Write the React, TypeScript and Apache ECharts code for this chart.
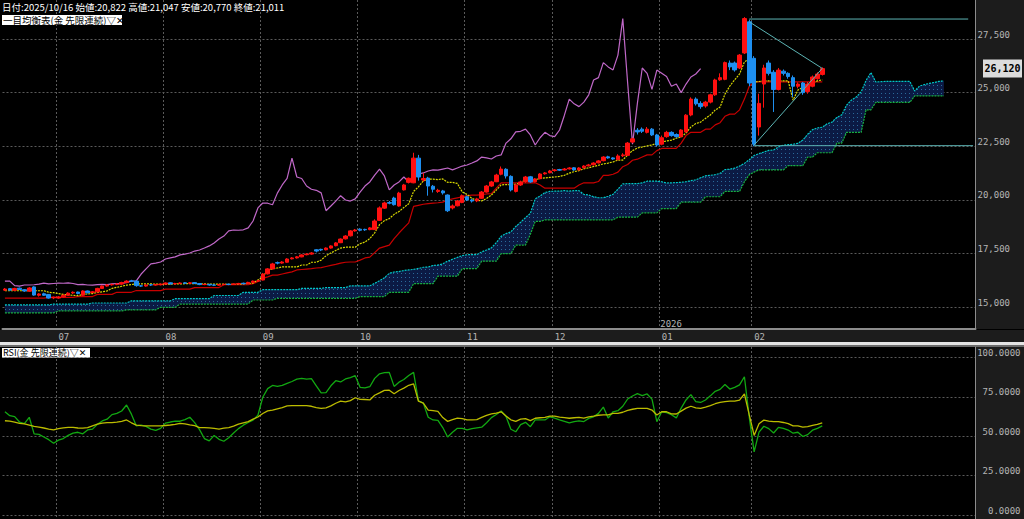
import React, { useEffect, useRef } from 'react';
import * as echarts from 'echarts';

// ---------- axis / layout data ----------
const SLOT_COUNT = 200; // trading-day slots on the x axis (candles + 25-day cloud lead)
const categories: string[] = Array.from({ length: SLOT_COUNT }, (_, i) => String(i));
const monthStartIdx = [11, 33, 53, 73, 95, 113, 135, 154];
const monthLabels = ['07', '08', '09', '10', '11', '12', '01', '02'];
const priceTicks = { min: 15000, max: 27500, step: 2500 };
const rsiTicks = { min: 0, max: 100, step: 25 };
const lastPrice = 26120;

// ---------- candles: [open, close, low, high] ----------
const ohlc: number[][] = [
  [15800,15850,15760,15900],[15870,15800,15770,15900],[15790,15880,15760,15910],[15890,15830,15800,15920],[15820,15760,15720,15850],
  [15750,15900,15720,15940],[15950,15570,15540,15980],[15560,15620,15500,15660],[15630,15560,15530,15680],[15600,15430,15400,15620],
  [15440,15470,15380,15500],[15430,15480,15400,15520],[15490,15560,15460,15600],[15560,15660,15540,15700],[15670,15700,15620,15740],
  [15710,15640,15600,15730],[15560,15760,15530,15790],[15760,15680,15650,15780],[15690,15720,15660,15760],[15720,15880,15700,15910],
  [15880,15990,15860,16020],[15990,16040,15960,16080],[16050,16060,16010,16100],[16070,16080,16030,16120],[16080,16150,16050,16190],
  [16150,16220,16120,16260],[16230,16220,16180,16280],[16220,16010,15960,16250],[16000,15990,15950,16040],[15990,16040,15960,16070],
  [16050,16040,16000,16080],[16040,16050,16010,16090],[16050,16080,16020,16110],[16080,16130,16060,16160],[16140,16090,16060,16160],
  [16090,16110,16060,16140],[16110,16130,16080,16160],[16140,16120,16090,16170],[16120,16140,16090,16180],[16150,16110,16080,16170],
  [16110,16060,16030,16130],[16060,16070,16030,16100],[16070,16040,16010,16090],[16040,16030,15990,16070],[16030,16060,16000,16090],
  [16060,16070,16030,16100],[16080,16060,16030,16100],[16060,16090,16040,16120],[16090,16110,16060,16140],[16120,16100,16070,16150],
  [16100,16160,16080,16190],[16160,16220,16130,16250],[16220,16230,16190,16270],[16270,16550,16250,16600],[16560,16790,16530,16830],
  [16790,17020,16760,17070],[17080,17060,17000,17130],[17060,17110,17030,17150],[17100,17250,17080,17290],[17260,17300,17230,17340],
  [17300,17350,17270,17390],[17350,17440,17330,17470],[17450,17480,17420,17520],[17480,17530,17450,17570],[17680,17620,17560,17710],
  [17700,17670,17620,17730],[17680,17760,17650,17790],[17760,17860,17730,17890],[17870,18000,17840,18040],[18010,18180,17990,18210],
  [18190,18320,18160,18360],[18330,18560,18300,18600],[18560,18600,18520,18650],[18640,18590,18540,18680],[18630,18610,18560,18660],
  [18620,18700,18590,18740],[18620,19020,18600,19100],[19050,19630,19020,19700],[19620,19860,19580,19920],[19880,19850,19800,19950],
  [20090,19780,19740,20150],[19720,20320,19690,20380],[20470,20700,20440,20750],[20822,21011,20770,21047],[20800,21950,20780,22200],
  [21950,21070,20900,22100],[20930,21000,20850,21250],[21020,20650,20200,21080],[20640,20500,20350,20700],[20400,20450,20330,20520],
  [20420,20330,20250,20470],[20230,19500,19440,20260],[19630,19720,19560,19790],[19730,19950,19700,20000],[19880,20200,19850,20260],
  [20150,20000,19950,20200],[20000,19950,19880,20060],[19960,20050,19900,20100],[20080,20370,20050,20420],[20370,20650,20340,20700],
  [20650,20840,20610,20890],[20850,21160,20830,21220],[21200,21440,21150,21560],[21430,21120,21000,21480],[21100,20470,20400,21150],
  [20400,20700,20350,20750],[20700,20840,20650,20900],[20860,21070,20800,21120],[21080,20840,20800,21120],[20850,20980,20820,21020],
  [20990,21210,20960,21250],[21220,21260,21180,21300],[21270,21350,21240,21400],[21370,21400,21320,21440],[21420,21390,21350,21450],
  [21400,21440,21370,21490],[21450,21490,21420,21530],[21500,21400,21360,21530],[21400,21490,21380,21530],[21500,21580,21470,21620],
  [21590,21630,21560,21680],[21640,21720,21610,21760],[21730,21820,21700,21860],[21830,22000,21800,22040],[22010,21960,21920,22060],
  [21960,21910,21870,21990],[21880,22050,21850,22130],[22060,22100,22000,22180],[22080,22650,22050,22700],[22700,22850,22650,22900],
  [23250,23170,23050,23350],[23300,23200,23120,23380],[23150,23300,23100,23400],[23300,23030,22980,23350],[23030,22560,22480,23080],
  [22600,22900,22550,23000],[22950,23150,22900,23220],[23150,23000,22950,23200],[23050,22950,22900,23100],[22950,23260,22920,23300],
  [23170,23950,23150,24000],[23960,24700,23900,24780],[24700,24480,24400,24780],[24500,24350,24250,24600],[24380,24560,24300,24620],
  [24560,24900,24500,24950],[24900,25590,24850,25650],[25600,25700,25550,25900],[25620,26400,25580,26450],[26380,26200,26050,26500],
  [26380,26060,25980,26450],[26150,26750,26100,26800],[26850,28450,26800,28520],[28300,25450,25300,28400],[26600,22600,22500,26700],
  [23400,24500,23000,24950],[25400,26150,24300,26300],[26380,25900,25800,26500],[25950,25150,24100,26050],[25150,26050,25100,26150],
  [26000,25900,25800,26080],[25900,25750,25650,25950],[25700,25300,24800,25800],[25300,25400,25200,25480],[25450,25000,24900,25500],
  [25050,25400,24950,25500],[25300,25730,25250,25800],[25650,25870,25600,25950],[25850,26120,25800,26180],
];

// ---------- Ichimoku lines ----------
const tenkan = [
  15770,15770,15770,15770,15770,15770,15770,15770,15770,15700,
  15680,15640,15600,15580,15560,15540,15600,15620,15640,15690,
  15720,15760,15880,15930,15980,16030,16060,16090,16090,16090,
  16090,16080,16070,16070,16080,16090,16090,16100,16100,16100,
  16100,16090,16080,16080,16080,16080,16070,16070,16080,16090,
  16110,16130,16270,16410,16740,16790,16830,16880,16880,16880,
  16880,16970,16970,17100,17100,17200,17400,17530,17650,17760,
  17800,17800,17800,17960,18040,18200,18470,18850,19040,19130,
  19330,19460,19650,19820,20400,20610,20890,20970,20970,20950,
  20980,20820,20820,20770,20370,20260,20070,19980,19960,20070,
  20230,20460,20700,20720,20720,20730,20800,20950,20950,20950,
  21000,21030,21050,21070,21100,21150,21250,21320,21370,21450,
  21500,21560,21620,21680,21720,21770,21860,21860,22100,22300,
  22420,22470,22520,22560,22650,22700,22750,22790,22880,22930,
  23120,23400,23560,23630,23800,23960,24190,24330,24930,25310,
  25600,25870,26430,26570,25500,25520,25550,25550,25550,25550,
  25550,25550,24650,25120,25250,25360,25450,25550,25600,
];
const kijun = [
  15430,15430,15430,15430,15430,15430,15430,15430,15430,15460,
  15460,15460,15460,15460,15460,15500,15500,15500,15500,15600,
  15600,15600,15600,15700,15700,15700,15700,15780,15780,15780,
  15780,15780,15780,15850,15850,15850,15850,15850,15850,15920,
  15920,15920,15920,15920,15920,16050,16050,16050,16050,16050,
  16050,16100,16200,16350,16420,16500,16500,16550,16600,16650,
  16740,16760,16780,16800,16830,16850,16900,16950,17000,17060,
  17100,17110,17110,17200,17300,17340,17550,17760,17830,17900,
  18200,18460,18700,18930,19700,19750,19800,19830,19850,19870,
  19900,20000,20050,20100,20150,20200,20230,20230,20250,20280,
  20300,20550,20800,20800,20800,20800,20800,20800,20800,20800,
  20700,20550,20550,20550,20550,20550,20550,20550,20700,20800,
  20800,20800,20860,21150,21150,21200,21300,21550,21650,21850,
  21900,22000,22100,22100,22300,22400,22400,22400,22400,22650,
  23000,23150,23150,23150,23300,23300,23500,23600,23900,24000,
  24000,24200,24700,25300,25500,25500,25500,25500,25500,25500,
  25500,25500,25500,25500,25500,25500,25500,25500,25500,
];
const spanA = [
  15110,15110,15110,15110,15110,15110,15110,15110,15110,15110,
  15150,15150,15150,15150,15150,15150,15150,15150,15200,15200,
  15200,15200,15200,15200,15200,15200,15300,15300,15300,15300,
  15300,15300,15300,15300,15300,15400,15400,15400,15400,15400,
  15400,15400,15400,15550,15550,15550,15550,15550,15550,15700,
  15700,15700,15700,15820,15820,15820,15820,15820,15820,15820,
  15820,15880,15880,15880,15880,15880,15920,15920,15920,15920,
  15920,16000,16000,16000,16000,16000,16115,16235,16380,16580,
  16645,16665,16715,16740,16765,16810,16865,16875,16950,16965,
  17025,17150,17240,17325,17410,17450,17455,17455,17580,17670,
  17770,18010,18305,18435,18515,18765,18960,19175,19375,20050,
  20180,20345,20400,20410,20410,20440,20410,20435,20435,20260,
  20230,20150,20105,20105,20175,20265,20505,20750,20760,20760,
  20765,20800,20875,20875,20875,20850,20790,20800,20810,20825,
  20850,20900,20935,21035,21125,21150,21180,21240,21415,21435,
  21485,21580,21705,21875,22075,22160,22235,22310,22330,22475,
  22550,22575,22595,22640,22790,23060,23275,23355,23390,23550,
  23630,23845,23965,24415,24655,24800,25035,25565,25935,25500,
  25510,25525,25525,25525,25525,25525,25525,25075,25310,25375,
  25430,25475,25525,25550,
];
const spanB = [
  14740,14740,14740,14740,14740,14740,14740,14740,14740,14740,
  14740,14830,14830,14830,14830,14830,14830,14830,14830,14830,
  14830,14830,14830,14830,14830,14880,14880,14880,14880,14880,
  14880,14880,15000,15000,15000,15000,15150,15150,15150,15150,
  15150,15150,15150,15150,15150,15150,15150,15150,15150,15150,
  15150,15340,15340,15340,15340,15340,15420,15420,15420,15420,
  15420,15420,15420,15420,15420,15420,15420,15420,15420,15420,
  15420,15420,15420,15500,15500,15500,15500,15500,15500,15700,
  15700,15700,15700,15700,16100,16100,16100,16100,16100,16450,
  16450,16450,16450,16450,16800,16800,16800,16800,17150,17150,
  17150,17150,17500,17500,17500,17900,17900,17900,18400,19000,
  19000,19070,19070,19070,19070,19070,19070,19070,19070,19070,
  19070,19070,19070,19070,19070,19070,19200,19200,19200,19200,
  19200,19400,19400,19400,19400,19600,19600,19600,19600,19900,
  19900,19900,19900,19900,20150,20150,20150,20150,20400,20400,
  20400,20400,20850,21175,21300,21400,21400,21400,21400,21400,
  21400,21600,21600,21600,21600,22000,22000,22200,22200,22200,
  22200,22650,22650,23150,23150,23150,23150,24200,24200,24550,
  24550,24550,24550,24550,24550,24550,24550,24850,24850,24850,
  24850,24850,24850,24850,
];

// ---------- RSI ----------
const rsiShort = [
  65.5,63,62.4,59,58,62,51.5,51.2,49.5,47.8,
  45.5,47.5,48.5,50.5,52,52.5,51.5,54,54.5,57.5,
  59.7,60.8,63.7,64.5,66,69.8,64,56.6,57,56.2,
  54.5,53.7,55,58.3,59,59.5,59.5,60.5,62,58.6,
  54.2,48.5,47,50.5,48,46.8,49,52,54.8,57,
  58.7,60.2,63.3,74.7,80.2,82.2,81.6,82.2,83.5,84.7,
  86.2,86.7,86.2,86.5,82,77.5,77.6,82,85.2,84.4,
  86.3,87.2,88.4,81,80.6,81.4,86.7,89.6,90.3,90.5,
  81.6,84.3,86,88.5,90.5,72.5,71,62,60.3,60,
  55.5,49.5,52.5,55,55,54,54.8,55.3,55.7,58.5,
  61.8,63.8,66,62.5,54.4,52.8,57.4,58.8,56,60.3,
  60.3,60.3,62.3,61.5,60.4,59.4,58.4,59.2,59.7,59.3,
  61.3,62.3,64.5,68.5,61.5,65.5,66.2,69,73.6,75.5,
  77,75.8,76.8,73.5,59.2,65.5,65,63.6,61.6,67.8,
  73,76.4,72,71.4,73,75.6,78.5,79.7,82.8,79.9,
  81,82.6,87.7,62,40,52.6,56.3,54.8,52,55.6,
  55,53.9,51.9,52.5,49.8,51,53.8,55,56.5,
];
const rsiLong = [
  59.8,59.6,59,58.2,57.8,57,56.2,55.7,55.2,54.5,
  54,54.8,55.3,55.6,55.6,55.2,55.1,55.4,56.6,57.6,
  58.3,58.6,58.6,58.9,59.4,60.3,58.5,57,56.7,56.5,
  56.5,56.5,56.5,56.8,57.1,57.5,58.2,57.8,57.2,56.7,
  55.5,55.5,55.3,55,54.5,55.1,55.5,56.4,57.7,58.5,
  59.3,60.8,62.2,64.4,66.1,66.5,67.4,68.2,69.2,69.4,
  69.4,69.4,69.4,69,68.2,67.7,68,69.2,70.9,72.2,
  71.8,72.6,74.4,73.4,73.3,73,76,77.5,79.1,79.2,
  76.9,79,80.5,82.3,83.2,72.2,71,66.6,66.2,65.8,
  61.8,59.4,60.5,61.5,61.2,60.3,60.3,60.5,61.9,63.2,
  64.1,64.6,65.5,62.8,60.4,59.4,60.8,61.2,59.9,61.4,
  61.7,62,62.7,62.8,62.1,61.8,61.4,61.7,62,61.5,
  62.2,62.7,63.3,63.5,63.5,64.5,64.5,65.2,66.4,67.1,
  67.7,67.7,67.6,66.6,63.5,65.5,65.5,64.2,64.1,65.9,
  67.8,69,68,67.7,68.5,69.4,70.6,71.5,71.9,72.3,
  72.3,72.9,76.8,63.5,50.5,57.9,60.2,59.6,59.2,59.2,
  58.7,58,56.6,56.5,55.7,56.1,56.9,57.5,58.5,
];

// ---------- drawn trend lines (triangle) ----------
const trendTop = [[153, 28430], [198, 28430]];
const trendBottom = [[154, 22530], [199, 22530]];
const trendUpperDiag = [[153, 28300], [168, 26130]];
const trendLowerDiag = [[154, 22560], [168, 26130]];

const CHIKOU_SHIFT = 25;
const MAIN_Y = { min: 13989, max: 29317 };
const RSI_Y = { min: -2.54, max: 106.6 };

const GRID_COLOR = '#5a5a5a';
const LABEL_COLOR = '#b4b4b4';
const AXIS_COLOR = '#8c8c8c';
const MONO = '"DejaVu Sans Mono", monospace';
const CJK = '"Noto Sans CJK JP", "DejaVu Sans", sans-serif';

export default function App() {
  const ref = useRef<HTMLDivElement>(null);

  useEffect(() => {
    document.body.style.margin = '0';
    const chart = echarts.init(ref.current!, null, { renderer: 'svg' });

    // dotted cloud pattern
    const cv = document.createElement('canvas');
    cv.width = 4;
    cv.height = 4;
    const ctx = cv.getContext('2d')!;
    ctx.fillStyle = '#0b1a44';
    ctx.fillRect(0, 0, 4, 4);
    ctx.fillStyle = '#2a6a9a';
    ctx.fillRect(1, 1, 1, 1);
    const cloudFill: any = { image: cv.toDataURL(), repeat: 'repeat', imageWidth: 4, imageHeight: 4 };

    const closes = ohlc.map((r) => r[1]);
    const chikou = closes.slice(CHIKOU_SHIFT);
    const cloudLow = spanA.map((a, i) => Math.min(a, spanB[i]));
    const cloudBand = spanA.map((a, i) => Math.abs(a - spanB[i]));

    const isMonth = (idx: number) => monthStartIdx.includes(idx);
    const dotted = { color: GRID_COLOR, type: [2, 2] as any, width: 1 };

    const trend = (data: number[][], id: string) => ({
      id,
      type: 'line',
      xAxisIndex: 0,
      yAxisIndex: 0,
      data,
      symbol: 'none',
      silent: true,
      lineStyle: { color: '#5cb4b4', width: 1 },
      z: 6,
    });

    const option: any = {
      animation: false,
      backgroundColor: '#000000',
      grid: [
        { left: 2.5, right: 48.5, top: 0, height: 329 },
        { left: 2.5, right: 48.5, top: 39, height: 268.3 },
        { left: 2.5, right: 48.5, top: 347, height: 172 },
        { left: 2.5, right: 48.5, top: 357.4, height: 157.6 },
      ],
      xAxis: [
        {
          gridIndex: 0,
          type: 'category',
          data: categories,
          boundaryGap: true,
          axisLine: { show: true, lineStyle: { color: AXIS_COLOR, width: 2 } },
          axisTick: { show: false },
          axisLabel: {
            interval: (i: number) => isMonth(i),
            formatter: (_v: string, i: number) => monthLabels[monthStartIdx.indexOf(i)] ?? '',
            color: LABEL_COLOR,
            fontSize: 9,
            fontFamily: MONO,
            align: 'left',
            margin: 3,
          },
          splitLine: { show: true, interval: (i: number) => isMonth(i), lineStyle: dotted },
        },
        { gridIndex: 1, type: 'category', data: categories, show: false },
        {
          gridIndex: 2,
          type: 'category',
          data: categories,
          boundaryGap: true,
          axisLine: { show: false },
          axisTick: { show: false },
          axisLabel: { show: false },
          splitLine: { show: true, interval: (i: number) => isMonth(i), lineStyle: dotted },
        },
        { gridIndex: 3, type: 'category', data: categories, show: false },
      ],
      yAxis: [
        {
          gridIndex: 0,
          type: 'value',
          min: MAIN_Y.min,
          max: MAIN_Y.max,
          position: 'right',
          axisLine: { show: true, lineStyle: { color: AXIS_COLOR, width: 1 } },
          axisTick: { show: false },
          axisLabel: { show: false },
          splitLine: { show: false },
        },
        {
          gridIndex: 1,
          type: 'value',
          min: priceTicks.min,
          max: priceTicks.max,
          interval: priceTicks.step,
          position: 'right',
          axisLine: { show: false },
          axisTick: { show: false },
          axisLabel: {
            color: LABEL_COLOR,
            fontSize: 9,
            fontFamily: MONO,
            verticalAlign: 'bottom',
            margin: 2,
            formatter: (v: number) => v.toLocaleString('en-US'),
          },
          splitLine: { show: true, lineStyle: dotted },
        },
        {
          gridIndex: 2,
          type: 'value',
          min: RSI_Y.min,
          max: RSI_Y.max,
          position: 'right',
          axisLine: { show: true, lineStyle: { color: AXIS_COLOR, width: 1 } },
          axisTick: { show: false },
          axisLabel: { show: false },
          splitLine: { show: false },
        },
        {
          gridIndex: 3,
          type: 'value',
          min: rsiTicks.min,
          max: rsiTicks.max,
          interval: rsiTicks.step,
          position: 'right',
          axisLine: { show: false },
          axisTick: { show: false },
          axisLabel: {
            color: LABEL_COLOR,
            fontSize: 9,
            fontFamily: MONO,
            align: 'right',
            verticalAlign: 'bottom',
            margin: 45,
            formatter: (v: number) => v.toFixed(4),
          },
          splitLine: { show: true, lineStyle: dotted },
        },
      ],
      series: [
        {
          id: 'cloudLow',
          type: 'line',
          xAxisIndex: 0,
          yAxisIndex: 0,
          stack: 'cloud',
          data: cloudLow,
          symbol: 'none',
          silent: true,
          lineStyle: { opacity: 0 },
          z: 1,
        },
        {
          id: 'cloudBand',
          type: 'line',
          xAxisIndex: 0,
          yAxisIndex: 0,
          stack: 'cloud',
          data: cloudBand,
          symbol: 'none',
          silent: true,
          lineStyle: { opacity: 0 },
          areaStyle: { color: cloudFill, opacity: 1 },
          z: 1,
        },
        {
          id: 'spanA',
          type: 'line',
          xAxisIndex: 0,
          yAxisIndex: 0,
          data: spanA,
          symbol: 'none',
          silent: true,
          lineStyle: { color: '#00c8c8', width: 1.2, type: [2, 1] },
          z: 2,
        },
        {
          id: 'spanB',
          type: 'line',
          xAxisIndex: 0,
          yAxisIndex: 0,
          data: spanB,
          symbol: 'none',
          silent: true,
          lineStyle: { color: '#18b040', width: 1.2, type: [2, 1] },
          z: 2,
        },
        {
          id: 'kijun',
          type: 'line',
          xAxisIndex: 0,
          yAxisIndex: 0,
          data: kijun,
          symbol: 'none',
          silent: true,
          lineStyle: { color: '#c80000', width: 1.2 },
          z: 3,
        },
        {
          id: 'tenkan',
          type: 'line',
          xAxisIndex: 0,
          yAxisIndex: 0,
          data: tenkan,
          symbol: 'none',
          silent: true,
          lineStyle: { color: '#d8d800', width: 1.2, type: [2, 1] },
          z: 3,
        },
        {
          id: 'chikou',
          type: 'line',
          xAxisIndex: 0,
          yAxisIndex: 0,
          data: chikou,
          symbol: 'none',
          silent: true,
          lineStyle: { color: '#c068c8', width: 1.2 },
          z: 3,
        },
        {
          id: 'candles',
          type: 'candlestick',
          xAxisIndex: 0,
          yAxisIndex: 0,
          data: ohlc,
          barWidth: 4,
          silent: true,
          itemStyle: {
            color: '#ff1010',
            color0: '#1e8ff0',
            borderColor: '#ff1010',
            borderColor0: '#1e8ff0',
            borderWidth: 1,
          },
          z: 5,
        },
        trend(trendTop, 'tTop'),
        trend(trendBottom, 'tBottom'),
        trend(trendUpperDiag, 'tUp'),
        trend(trendLowerDiag, 'tLow'),
        {
          id: 'rsiShort',
          type: 'line',
          xAxisIndex: 2,
          yAxisIndex: 2,
          data: rsiShort,
          symbol: 'none',
          silent: true,
          lineStyle: { color: '#12a812', width: 1.3 },
          z: 3,
        },
        {
          id: 'rsiLong',
          type: 'line',
          xAxisIndex: 2,
          yAxisIndex: 2,
          data: rsiLong,
          symbol: 'none',
          silent: true,
          lineStyle: { color: '#bcbc00', width: 1.3 },
          z: 4,
        },
      ],
      graphic: [
        { id: 'bgStripTop', type: 'rect', z: -10, silent: true, shape: { x: 976, y: 0, width: 48, height: 329 }, style: { fill: '#1c1c1c' } },
        { id: 'bgAxisBand', type: 'rect', z: -10, silent: true, shape: { x: 0, y: 330, width: 1024, height: 12 }, style: { fill: '#1c1c1c' } },
        { id: 'bgSepWhite', type: 'rect', z: -10, silent: true, shape: { x: 0, y: 342, width: 1024, height: 3 }, style: { fill: '#e4e4e4' } },
        { id: 'bgSepGray', type: 'rect', z: -10, silent: true, shape: { x: 0, y: 345, width: 1024, height: 2 }, style: { fill: '#6a6a6a' } },
        { id: 'bgStripBottom', type: 'rect', z: -10, silent: true, shape: { x: 976, y: 347, width: 48, height: 172 }, style: { fill: '#1c1c1c' } },
        {
          id: 'hdr',
          type: 'text',
          z: 100,
          silent: true,
          x: 2,
          y: 2,
          style: {
            text: '日付:2025/10/16 始値:20,822 高値:21,047 安値:20,770 終値:21,011',
            fill: '#ffffff',
            fontSize: 9.5,
            fontFamily: CJK,
            verticalAlign: 'top',
          },
        },
        { id: 'ichiBox', type: 'rect', z: 100, silent: true, shape: { x: 2, y: 15, width: 120, height: 10 }, style: { fill: '#ffffff' } },
        {
          id: 'ichiTxt',
          type: 'text',
          z: 101,
          silent: true,
          x: 3,
          y: 15.3,
          style: { text: '一目均衡表(金 先限連続)▽✕', fill: '#000000', fontSize: 9.5, fontFamily: CJK },
        },
        { id: 'rsiBox', type: 'rect', z: 100, silent: true, shape: { x: 2, y: 348, width: 88, height: 9.5 }, style: { fill: '#ffffff' } },
        {
          id: 'rsiTxt',
          type: 'text',
          z: 101,
          silent: true,
          x: 3,
          y: 348.3,
          style: { text: 'RSI(金 先限連続)▽✕', fill: '#000000', fontSize: 9, fontFamily: CJK },
        },
      ],
    };

    chart.setOption(option);

    // place price tag and year label through the chart's own scales
    const tagPt = chart.convertToPixel({ gridIndex: 0 } as any, [ohlc.length - 1, lastPrice]) as number[];
    const janPt = chart.convertToPixel({ gridIndex: 0 } as any, [monthStartIdx[6], MAIN_Y.min]) as number[];
    const nextPt = chart.convertToPixel({ gridIndex: 0 } as any, [monthStartIdx[6] + 1, MAIN_Y.min]) as number[];
    const half = (nextPt[0] - janPt[0]) / 2;

    chart.setOption({
      graphic: [
        {
          id: 'tagRect',
          type: 'rect',
          z: 100,
          silent: true,
          shape: { x: 983, y: tagPt[1] - 9, width: 39, height: 18 },
          style: { fill: '#dcdcdc' },
        },
        {
          id: 'tagTxt',
          type: 'text',
          z: 101,
          silent: true,
          x: 1002.5,
          y: tagPt[1],
          style: {
            text: lastPrice.toLocaleString('en-US'),
            fill: '#000000',
            fontSize: 10,
            fontWeight: 'bold',
            fontFamily: MONO,
            align: 'center',
            verticalAlign: 'middle',
          },
        },
        {
          id: 'yearTxt',
          type: 'text',
          z: 100,
          silent: true,
          x: janPt[0] - half + 1,
          y: janPt[1] - 1,
          style: {
            text: '2026',
            fill: LABEL_COLOR,
            fontSize: 9,
            fontFamily: MONO,
            verticalAlign: 'bottom',
          },
        },
      ],
    });

    return () => chart.dispose();
  }, []);

  return (
    <div
      ref={ref}
      style={{ position: 'absolute', left: 0, top: 0, width: 1024, height: 519 }}
    />
  );
}
